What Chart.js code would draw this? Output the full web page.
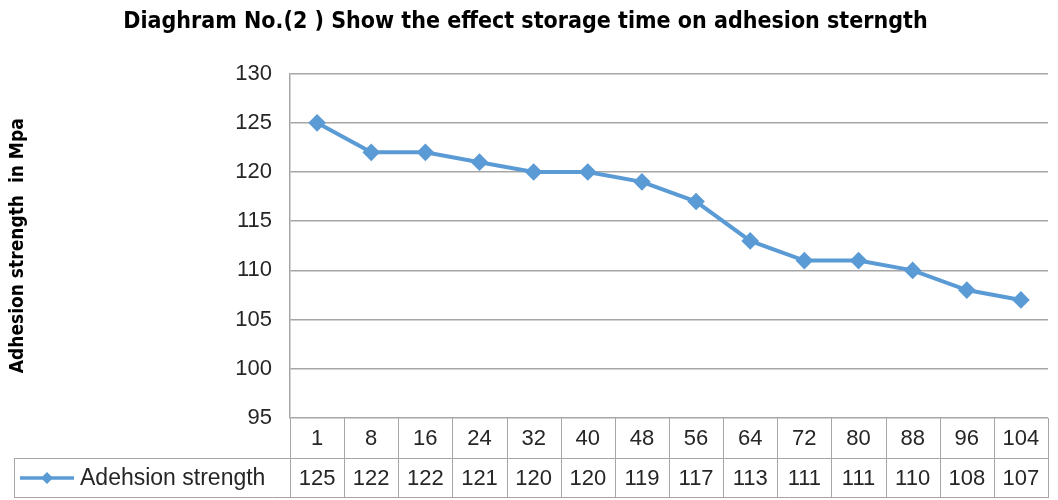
<!DOCTYPE html>
<html>
<head>
<meta charset="utf-8">
<script src="https://cdn.jsdelivr.net/npm/chart.js@4.4.0/dist/chart.umd.min.js"></script>
<style>
  html, body { margin: 0; padding: 0; background: #fff; }
  #wrap { width: 1058px; height: 500px; }
</style>
</head>
<body>
<div id="wrap"><canvas id="chart" width="1058" height="500"></canvas></div>
<script>
// storage time (days) and measured adhesion strength
let storageTimes = ['1', '8', '16', '24', '32', '40', '48', '56', '64', '72', '80', '88', '96', '104'];
let adhesion = [125, 122, 122, 121, 120, 120, 119, 117, 113, 111, 111, 110, 108, 107];
let seriesName = 'Adehsion strength';
let yMin = 95;
let yMax = 130;
let yStep = 5;

let lineColor = '#5b9bd5';
let gridColor = '#a6a6a6';
let textFont = '"Liberation Sans", Arial, sans-serif';
let titleFont = '"DejaVu Sans Condensed", "Liberation Sans", Arial, sans-serif';
let rowHeight = 40;

// draws the data table under the plot (times row + values row with legend key)
const dataTable = {
  id: 'dataTable',
  afterDraw(chart) {
    const ctx = chart.ctx;
    const xs = chart.scales.x;
    const area = chart.chartArea;
    const n = storageTimes.length;
    const cellW = (area.right - area.left) / n;
    const top = area.bottom;
    const keyLeft = 14;

    ctx.save();
    ctx.strokeStyle = gridColor;
    ctx.lineWidth = 1;

    // horizontal rules
    ctx.beginPath();
    ctx.moveTo(area.left, top + rowHeight + 0.5);
    ctx.lineTo(area.right, top + rowHeight + 0.5);
    ctx.moveTo(keyLeft, top + rowHeight + 0.5);
    ctx.lineTo(area.left, top + rowHeight + 0.5);
    ctx.moveTo(keyLeft, top + 2 * rowHeight - 0.5);
    ctx.lineTo(area.right, top + 2 * rowHeight - 0.5);
    ctx.stroke();

    // vertical rules
    ctx.beginPath();
    for (let i = 0; i <= n; i++) {
      const x = Math.round(area.left + i * cellW) + 0.5;
      ctx.moveTo(x, top);
      ctx.lineTo(x, top + 2 * rowHeight);
    }
    ctx.moveTo(keyLeft + 0.5, top + rowHeight);
    ctx.lineTo(keyLeft + 0.5, top + 2 * rowHeight);
    ctx.stroke();

    // cell text
    ctx.fillStyle = '#262626';
    ctx.font = '22px ' + textFont;
    ctx.textAlign = 'center';
    ctx.textBaseline = 'middle';
    for (let i = 0; i < n; i++) {
      const cx = xs.getPixelForValue(i);
      ctx.fillText(storageTimes[i], cx, top + rowHeight / 2 + 1);
      ctx.fillText(String(adhesion[i]), cx, top + rowHeight * 1.5 + 1);
    }

    // legend key
    const ky = top + rowHeight * 1.5;
    ctx.strokeStyle = lineColor;
    ctx.lineWidth = 3.5;
    ctx.beginPath();
    ctx.moveTo(20, ky);
    ctx.lineTo(74, ky);
    ctx.stroke();
    ctx.fillStyle = lineColor;
    ctx.beginPath();
    ctx.moveTo(47, ky - 6);
    ctx.lineTo(53, ky);
    ctx.lineTo(47, ky + 6);
    ctx.lineTo(41, ky);
    ctx.closePath();
    ctx.fill();
    ctx.fillStyle = '#262626';
    ctx.textAlign = 'left';
    ctx.font = '23px ' + textFont;
    ctx.fillText(seriesName, 80, ky + 1);
    ctx.restore();
  }
};

new Chart(document.getElementById('chart'), {
  type: 'line',
  data: {
    labels: storageTimes,
    datasets: [{
      label: seriesName,
      data: adhesion,
      borderColor: lineColor,
      backgroundColor: lineColor,
      borderWidth: 4,
      pointStyle: 'rectRot',
      pointRadius: 6,
      pointHoverRadius: 6,
      tension: 0
    }]
  },
  options: {
    responsive: false,
    animation: false,
    layout: { padding: { top: 0, right: 7, bottom: 2, left: 0 } },
    plugins: {
      legend: { display: false },
      tooltip: { enabled: false },
      title: {
        display: true,
        text: 'Diaghram No.(2 ) Show the effect storage time on adhesion sterngth',
        color: '#000',
        font: { family: titleFont, size: 23, weight: 'bold' },
        padding: { top: 8, bottom: 38 }
      }
    },
    scales: {
      x: {
        offset: true,
        grid: { display: false, drawTicks: false },
        border: { display: false },
        ticks: { display: false },
        afterFit(scale) { scale.height = 2 * rowHeight; }
      },
      y: {
        min: yMin,
        max: yMax,
        ticks: {
          stepSize: yStep,
          color: '#262626',
          padding: 18,
          font: { family: textFont, size: 22 }
        },
        grid: { color: gridColor, lineWidth: 1.5, drawTicks: false },
        border: { color: gridColor, width: 1.5 },
        title: {
          display: true,
          text: 'Adhesion strength  in Mpa',
          color: '#000',
          font: { family: titleFont, size: 19, weight: 'bold' },
          padding: { top: 7, bottom: 0 }
        },
        afterFit(scale) { scale.width = 290; }
      }
    }
  },
  plugins: [dataTable]
});
</script>
</body>
</html>
